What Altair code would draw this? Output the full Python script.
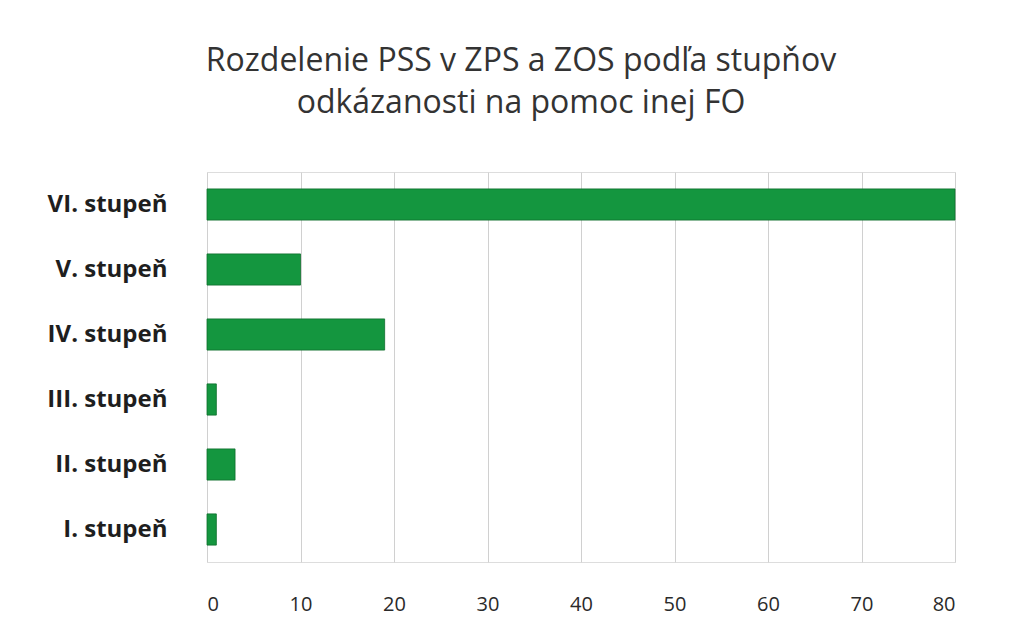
import altair as alt
import pandas as pd

categories = ["VI. stupeň", "V. stupeň", "IV. stupeň", "III. stupeň", "II. stupeň", "I. stupeň"]
values = [80, 10, 19, 1, 3, 1]
x_ticks = [0, 10, 20, 30, 40, 50, 60, 70, 80]
title_lines = ["Rozdelenie PSS v ZPS a ZOS podľa stupňov", "odkázanosti na pomoc inej FO"]

df = pd.DataFrame({"stupen": categories, "pocet": values})

FONT = "Open Sans"

chart = alt.Chart(df).mark_bar(color="#14963F", stroke="#0E6E2C", strokeWidth=0.8).encode(
    x=alt.X("pocet:Q", scale=alt.Scale(domain=[0, 80], nice=False),
            axis=alt.Axis(values=x_ticks, title=None, domain=False, ticks=False,
                          grid=True, gridColor="#D0D0D0", gridWidth=1,
                          labelFontSize=20, labelColor="#2A2A2A", labelFont=FONT,
                          labelPadding=32)),
    y=alt.Y("stupen:N", sort=categories,
            scale=alt.Scale(paddingInner=0.52, paddingOuter=0.26),
            axis=alt.Axis(title=None, domain=False, ticks=False, grid=False,
                          labelFontSize=24, labelFontWeight="bold", labelColor="#1E1E1E",
                          labelFont=FONT, labelPadding=40)),
).properties(
    width=748,
    height=390,
    title=alt.TitleParams(text=title_lines, fontSize=32, font=FONT, fontWeight="normal",
                          color="#333333", anchor="middle", dx=-60, offset=52, lineHeight=42),
    autosize=alt.AutoSizeParams(type="none"),
    padding={"left": 199, "top": 164, "right": 50, "bottom": 60},
).configure_view(stroke=None).configure(background="white")

chart.save("out.html", embed_options={"renderer": "svg", "actions": False})
